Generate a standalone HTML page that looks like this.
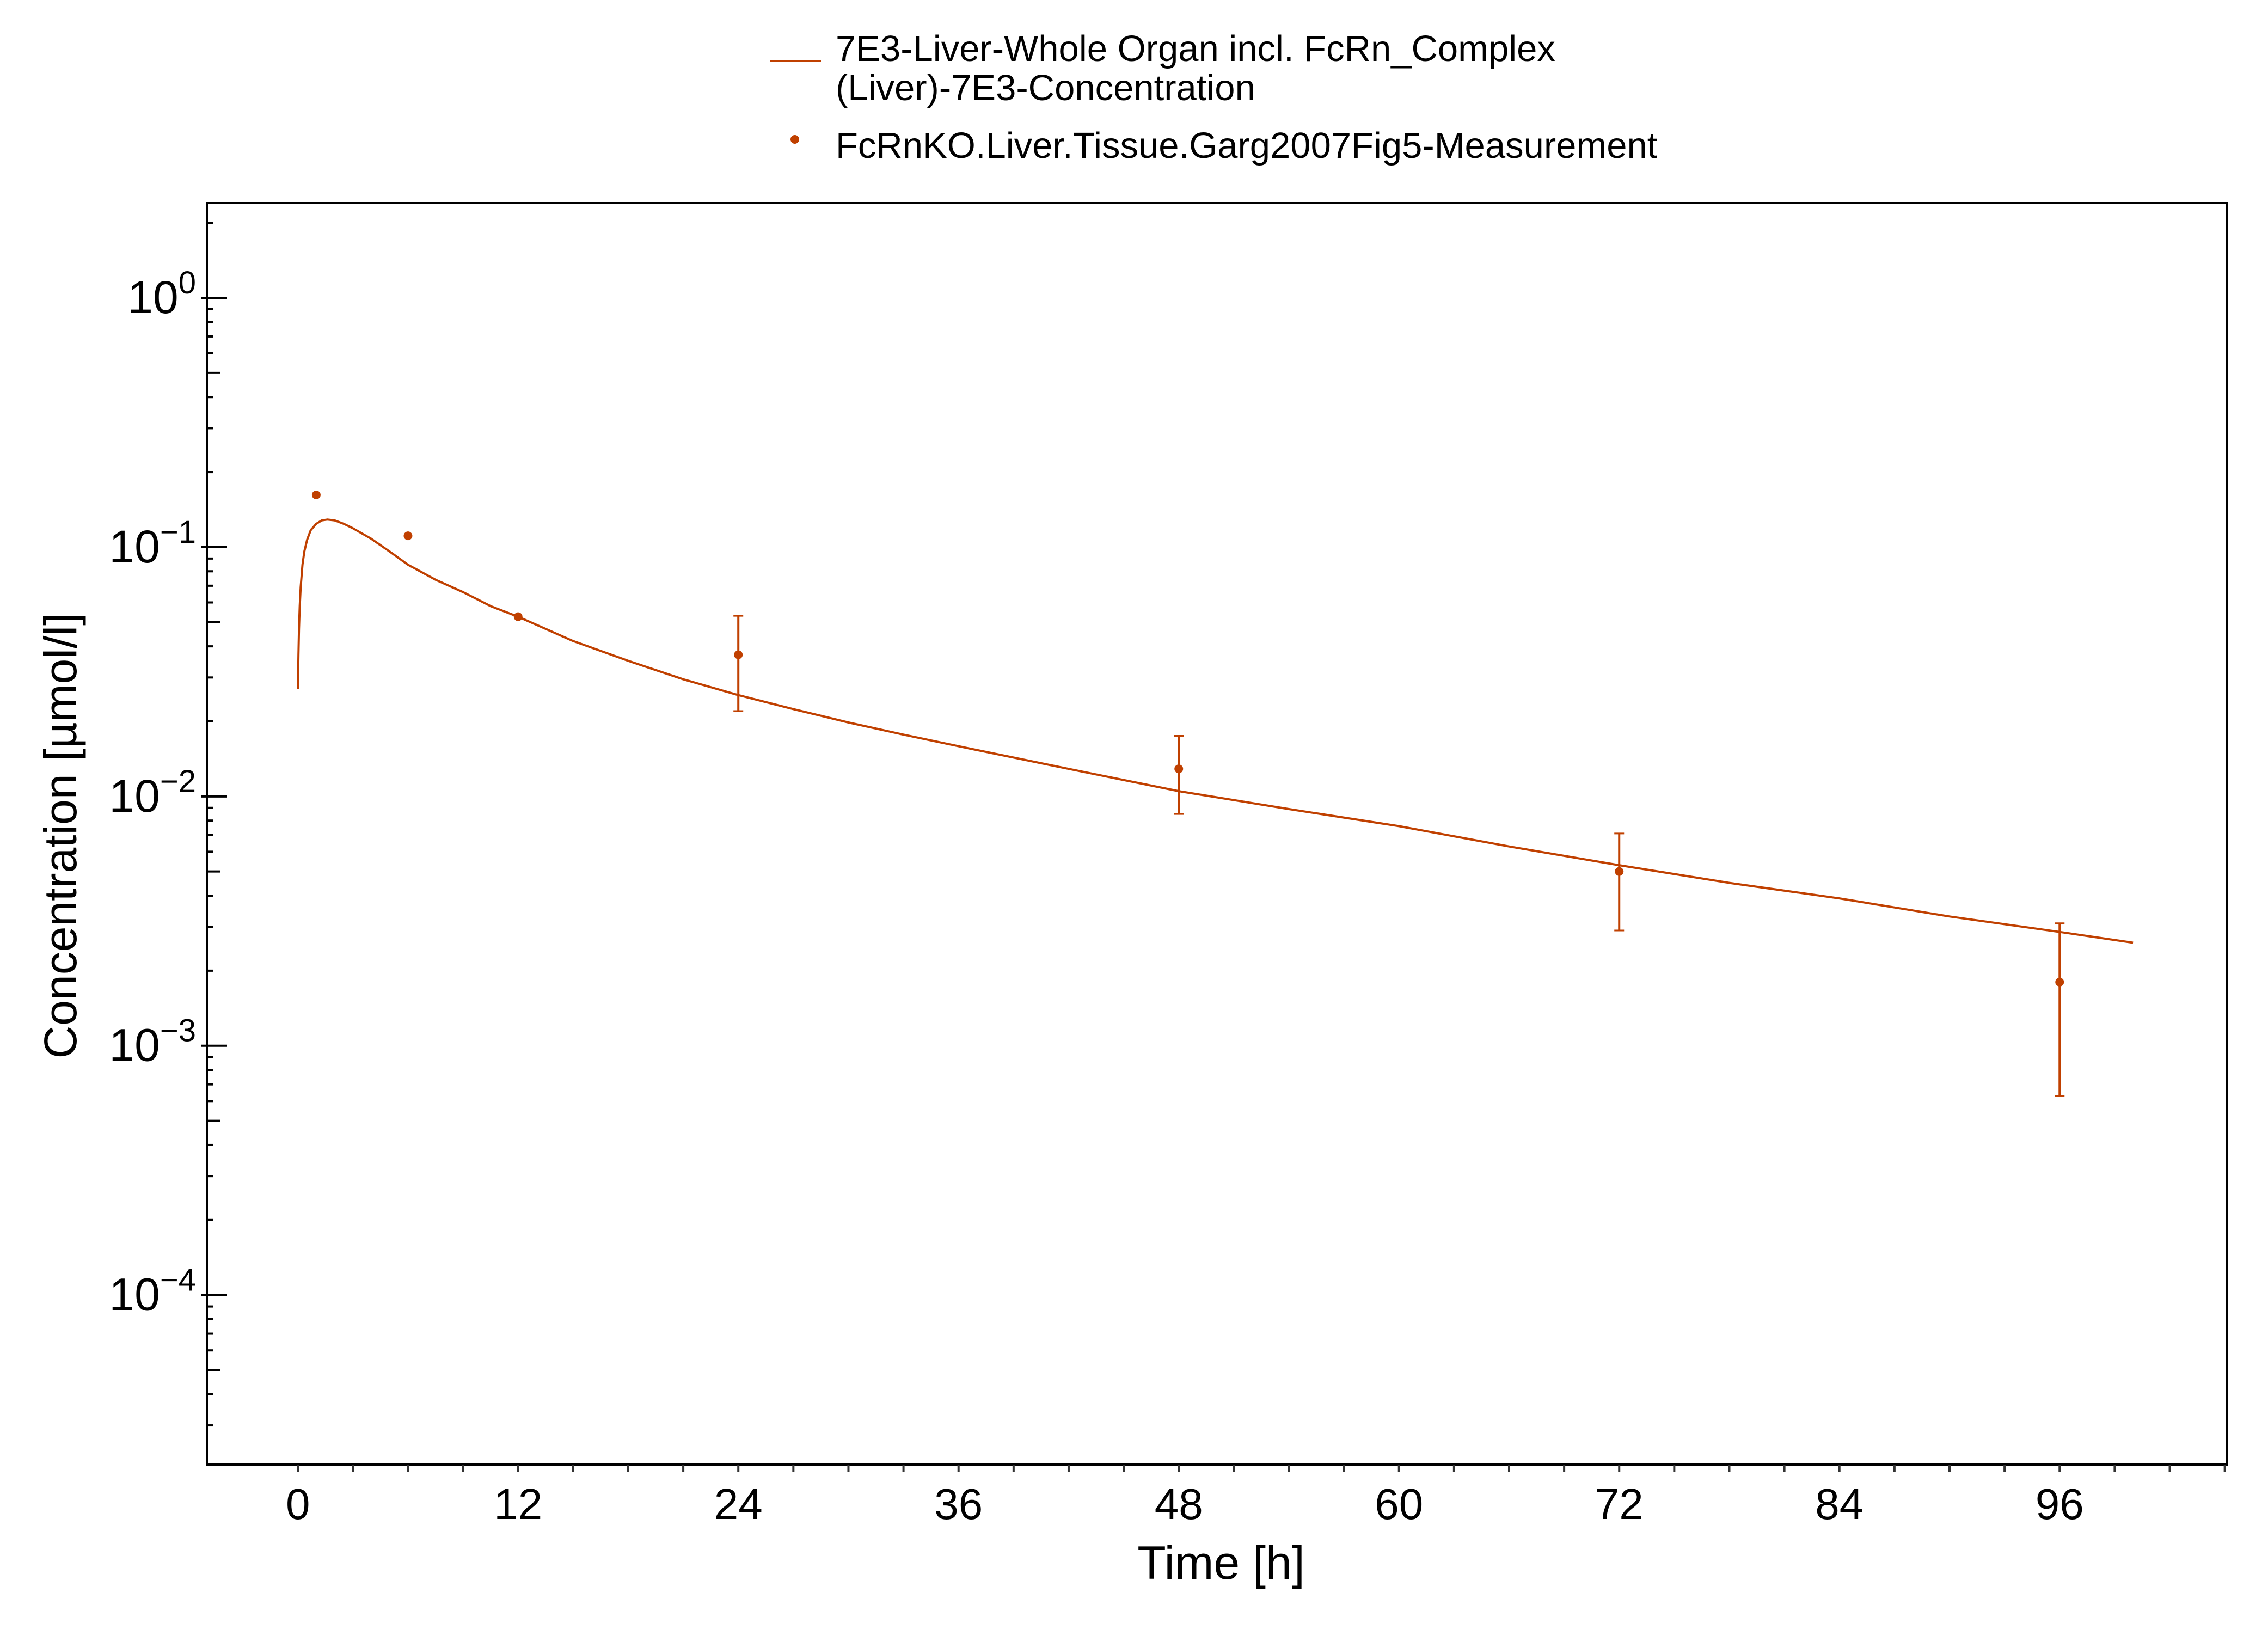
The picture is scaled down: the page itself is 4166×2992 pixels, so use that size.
<!DOCTYPE html>
<html><head><meta charset="utf-8"><style>
html,body{margin:0;padding:0;background:#fff}
svg{display:block;font-family:"Liberation Sans",Arial,sans-serif}
</style></head><body>
<svg id="chart" width="4166" height="2992" viewBox="0 0 4166 2992" xmlns="http://www.w3.org/2000/svg">
<rect width="4166" height="2992" fill="#fff"/>
<g id="legend">
  <line x1="1415" y1="112" x2="1508" y2="112" stroke="#c04000" stroke-width="4"/>
  <text x="1535" y="112" font-size="67" fill="#000">7E3-Liver-Whole Organ incl. FcRn_Complex</text>
  <text x="1535" y="184" font-size="67" fill="#000">(Liver)-7E3-Concentration</text>
  <circle cx="1460" cy="256" r="8" fill="#c04000"/>
  <text x="1535" y="290" font-size="67" fill="#000">FcRnKO.Liver.Tissue.Garg2007Fig5-Measurement</text>
</g>
<g id="axes"></g>
<g id="plot"></g>
<text x="2243" y="2900" font-size="86" text-anchor="middle">Time [h]</text>
<text transform="translate(140,1535) rotate(-90)" font-size="84" text-anchor="middle">Concentration [µmol/l]</text>
</svg>
<script>
const xTicks = [0,12,24,36,48,60,72,84,96];
const yDecades = [0,-1,-2,-3,-4];
const simT = [0,0.03,0.06,0.1,0.15,0.25,0.35,0.5,0.7,1,1.3,1.6,2,2.5,3,4,5,6,7.5,9,10.5,12,15,18,21,24,27,30,33,36,42,48,54,60,66,72,78,84,90,96,100];
const simC = [0.027,0.037,0.047,0.058,0.069,0.085,0.096,0.107,0.117,0.124,0.128,0.129,0.128,0.124,0.119,0.108,0.096,0.085,0.074,0.066,0.058,0.0526,0.042,0.035,0.0295,0.0255,0.0224,0.0198,0.0177,0.0159,0.0129,0.0105,0.0089,0.0076,0.0063,0.0053,0.0045,0.0039,0.0033,0.00286,0.00259];
const obsT = [1,6,12,24,48,72,96];
const obsC = [0.162,0.111,0.0526,0.037,0.0129,0.0050,0.0018];
const obsHi = [null,null,null,0.053,0.0175,0.0071,0.0031];
const obsLo = [null,null,null,0.022,0.0085,0.0029,0.00063];

const L=380,R=4090,T=373,B=2690;
const xMin=-4.96,xMax=105.1, yMaxLog=0.38, yMinLog=-4.68;
const X=t=>L+(t-xMin)/(xMax-xMin)*(R-L);
const Y=v=>T+(yMaxLog-Math.log10(v))/(yMaxLog-yMinLog)*(B-T);
const NS="http://www.w3.org/2000/svg";
function mk(tag,attrs,parent){const e=document.createElementNS(NS,tag);for(const k in attrs)e.setAttribute(k,attrs[k]);parent.appendChild(e);return e;}
const axes=document.getElementById('axes'), plot=document.getElementById('plot');
const frame=mk('rect',{x:L,y:T,width:R-L,height:B-T,fill:'none',stroke:'#000','stroke-width':4},axes);


for(let t=0;t<=xMax;t+=3){
  const tk=mk('line',{x1:X(t),y1:B,x2:X(t),y2:B+14,stroke:'#333','stroke-width':4},axes);
  
  
}
xTicks.forEach(t=>{
  const tx=mk('text',{x:X(t),y:2790,'font-size':80,'text-anchor':'middle'},axes);
  tx.textContent=t;
  
  
});
for(let d=-5;d<=0;d++){
  for(let m=1;m<=9;m++){
    const v=m*Math.pow(10,d);const lg=Math.log10(v);
    if(lg<yMinLog||lg>yMaxLog)continue;
    const len=m===1?37:(m===5?24:12);
    const tk=mk('line',{x1:m===1?L-10:L,y1:Y(v),x2:L+len,y2:Y(v),stroke:'#000','stroke-width':4},axes);
    
    
  }
}
yDecades.forEach(d=>{
  const tx=mk('text',{x:360,y:Y(Math.pow(10,d))+28,'font-size':84,'text-anchor':'end'},axes);
  
  
  const base=document.createElementNS(NS,'tspan');base.textContent='10';tx.appendChild(base);
  const sup=document.createElementNS(NS,'tspan');sup.setAttribute('dy','-36');sup.setAttribute('font-size','58');
  sup.textContent=d===0?'0':'\u2212'+(-d);tx.appendChild(sup);
});
const pts=simT.map((t,i)=>X(t).toFixed(1)+','+Y(simC[i]).toFixed(1)).join(' ');
const line=mk('polyline',{points:pts,fill:'none',stroke:'#c04000','stroke-width':4,'stroke-linejoin':'round'},plot);


obsT.forEach((t,i)=>{
  const x=X(t);
  if(obsHi[i]!==null){
    const eb=mk('line',{x1:x,y1:Y(obsHi[i]),x2:x,y2:Y(obsLo[i]),stroke:'#c04000','stroke-width':4},plot);
    
    
    [obsHi[i],obsLo[i]].forEach(v=>{
      const cap=mk('line',{x1:x-9,y1:Y(v),x2:x+9,y2:Y(v),stroke:'#c04000','stroke-width':3},plot);
      
      
    });
  }
  const c=mk('circle',{cx:x,cy:Y(obsC[i]),r:8,fill:'#c04000'},plot);
  
  
});
</script>
</body></html>
